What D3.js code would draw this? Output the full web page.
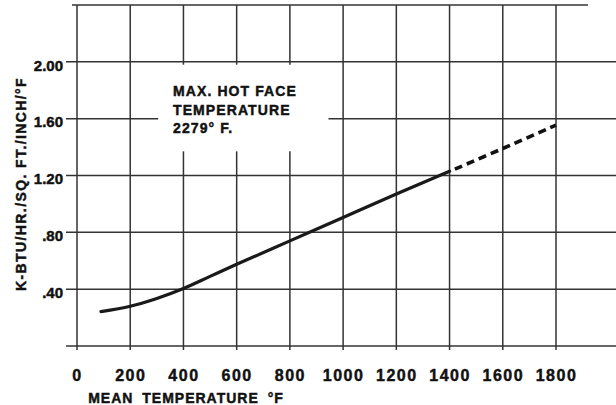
<!DOCTYPE html>
<html lang="en">
<head>
    <meta charset="UTF-8">
    <script src="https://d3js.org/d3.v7.min.js"></script>
    <title>Conductivity</title>
    <style>
        body { margin: 0; background: #fff; }
        text { font-family: "Liberation Sans", Arial, sans-serif; font-weight: bold; fill: #111; stroke: #111; stroke-width: 0.45px; }
    </style>
</head>
<body>
<div id="viz"></div>
<script>
    // data
    const xTicks = [0, 200, 400, 600, 800, 1000, 1200, 1400, 1600, 1800];
    const yTicks = [0, 0.4, 0.8, 1.2, 1.6, 2.0, 2.4];
    const yTickLabels = ["", ".40", ".80", "1.20", "1.60", "2.00", ""];
    const solidTemp = [90, 200, 300, 400, 500, 600, 800, 1000, 1200, 1400];
    const solidK = [0.242, 0.28, 0.335, 0.405, 0.49, 0.575, 0.74, 0.905, 1.07, 1.23];
    const dashTemp = [1420, 1600, 1800];
    const dashK = [1.245, 1.39, 1.555];
    const noteLines = ["MAX. HOT FACE", "TEMPERATURE", "2279° F."];
    // area left blank around the note (data units)
    const noteX = [305, 945], noteY = [1.37, 1.98];

    const W = 616, H = 405;

    const svg = d3.select("#viz")
        .append("svg")
        .attr("width", W)
        .attr("height", H);

    const x = d3.scaleLinear().domain([0, 1800]).range([77, 556]);
    const y = d3.scaleLinear().domain([0, 2.4]).range([346, 5]);

    const grid = svg.append("g")
        .attr("stroke", "#333")
        .attr("stroke-width", 1.5);

    // horizontal grid lines
    yTicks.forEach(function (v) {
        const x0 = v === 2.4 ? x(0) - 5 : x(0) - 11;
        const x1 = v === 2.4 ? 588 : W;
        if (v > noteY[0] && v < noteY[1]) {
            grid.append("line").attr("x1", x0).attr("x2", x(noteX[0]))
                .attr("y1", y(v)).attr("y2", y(v));
            grid.append("line").attr("x1", x(noteX[1])).attr("x2", x1)
                .attr("y1", y(v)).attr("y2", y(v));
        } else {
            grid.append("line").attr("x1", x0).attr("x2", x1)
                .attr("y1", y(v)).attr("y2", y(v));
        }
    });

    // vertical grid lines
    xTicks.forEach(function (t) {
        const yTop = y(2.4), yBot = y(0) + 4;
        if (t > noteX[0] && t < noteX[1]) {
            grid.append("line").attr("x1", x(t)).attr("x2", x(t))
                .attr("y1", yTop).attr("y2", y(noteY[1]));
            grid.append("line").attr("x1", x(t)).attr("x2", x(t))
                .attr("y1", y(noteY[0])).attr("y2", yBot);
        } else {
            grid.append("line").attr("x1", x(t)).attr("x2", x(t))
                .attr("y1", yTop).attr("y2", yBot);
        }
    });

    // x axis labels
    const xAxis = svg.append("g")
        .attr("transform", `translate(0, ${y(0) + 24})`)
        .call(d3.axisBottom(x).tickValues(xTicks).tickSize(0).tickFormat(d3.format("d")));
    xAxis.select(".domain").remove();
    xAxis.selectAll("text")
        .attr("y", 0).attr("dy", "0.71em")
        .style("font-family", "'Liberation Sans', Arial, sans-serif")
        .style("font-weight", "bold")
        .style("font-size", "16px")
        .style("letter-spacing", "1.5px")
        .style("fill", "#111");

    // y axis labels
    const yAxis = svg.append("g")
        .attr("transform", `translate(${x(0) - 14}, 0)`)
        .call(d3.axisLeft(y).tickValues(yTicks).tickSize(0)
            .tickFormat((d, i) => yTickLabels[i]));
    yAxis.select(".domain").remove();
    yAxis.selectAll("text")
        .attr("x", 0).attr("dy", "0.55em")
        .style("font-family", "'Liberation Sans', Arial, sans-serif")
        .style("font-weight", "bold")
        .style("font-size", "15px")
        .style("fill", "#111");

    // curve
    const line = d3.line()
        .x(d => x(d[0]))
        .y(d => y(d[1]))
        .curve(d3.curveCatmullRom.alpha(0.5));

    svg.append("path")
        .datum(d3.zip(solidTemp, solidK))
        .attr("d", line)
        .attr("fill", "none")
        .attr("stroke", "#1a1a1a")
        .attr("stroke-width", 3.2)
        .attr("stroke-linecap", "round");

    svg.append("path")
        .datum(d3.zip(dashTemp, dashK))
        .attr("d", line)
        .attr("fill", "none")
        .attr("stroke", "#111")
        .attr("stroke-width", 3.6)
        .attr("stroke-dasharray", "8,5");

    // note
    const note = svg.append("text")
        .attr("x", 173)
        .attr("y", 96)
        .style("font-size", "14px")
        .style("letter-spacing", "1.1px");
    note.selectAll("tspan")
        .data(noteLines)
        .join("tspan")
        .attr("x", 173)
        .attr("dy", (d, i) => i === 0 ? 0 : 18.5)
        .text(d => d);

    // axis titles
    svg.append("text")
        .attr("x", 186)
        .attr("y", 403)
        .attr("text-anchor", "middle")
        .style("font-size", "14px")
        .style("letter-spacing", "1px")
        .style("word-spacing", "4px")
        .text("MEAN TEMPERATURE °F");

    svg.append("text")
        .attr("transform", "translate(26, 184) rotate(-90)")
        .attr("text-anchor", "middle")
        .style("font-size", "14px")
        .style("letter-spacing", "1.4px")
        .text("K-BTU/HR./SQ. FT./INCH/°F");
</script>
</body>
</html>
